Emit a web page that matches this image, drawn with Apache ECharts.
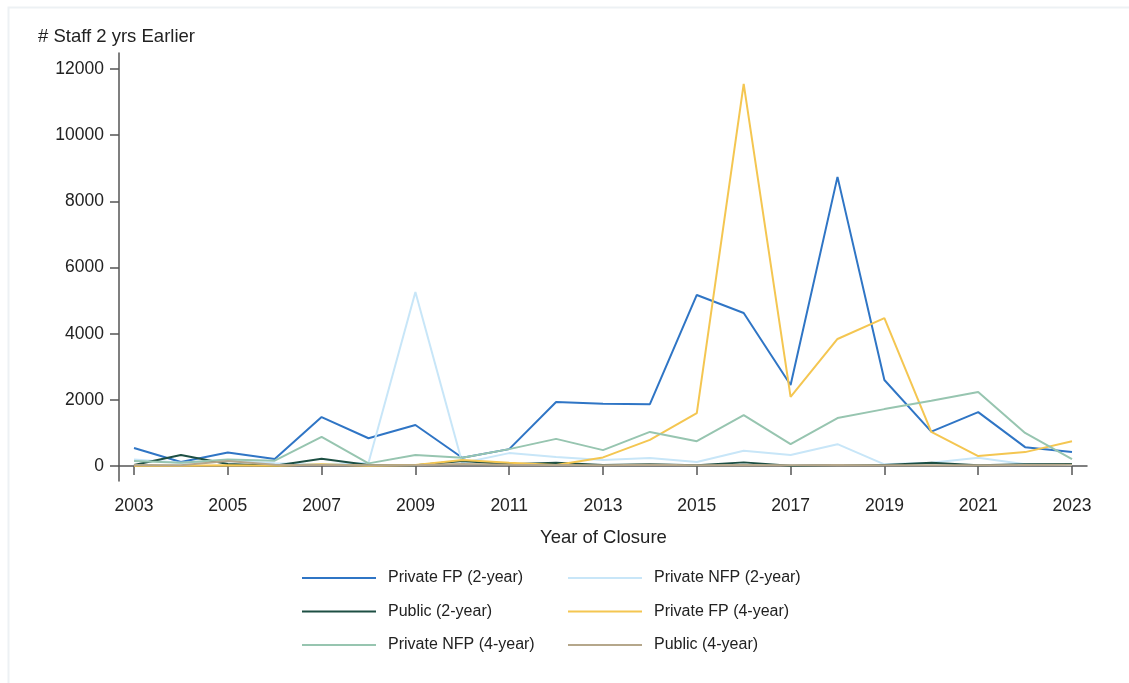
<!DOCTYPE html>
<html>
<head>
<meta charset="utf-8">
<script src="https://cdn.jsdelivr.net/npm/echarts@6/dist/echarts.min.js"></script>
<style>
html,body{margin:0;padding:0;background:#fff;}
#chart{width:1129px;height:683px;}
</style>
</head>
<body>
<div id="chart"></div>
<script>
const years = [2003,2004,2005,2006,2007,2008,2009,2010,2011,2012,2013,2014,2015,2016,2017,2018,2019,2020,2021,2022,2023];
const xTicks = [2003,2005,2007,2009,2011,2013,2015,2017,2019,2021,2023];
const yTicks = [0,2000,4000,6000,8000,10000,12000];

const privateFP2 = [545,120,410,210,1480,840,1240,250,510,1935,1880,1870,5170,4625,2450,8740,2600,1040,1630,570,420];
const privateNFP2 = [200,100,150,80,50,100,5260,90,390,270,180,240,120,460,330,660,50,100,250,50,30];
const public2 = [30,330,60,10,220,30,20,150,50,100,30,50,20,110,10,30,30,100,20,50,60];
const privateFP4 = [10,10,20,10,50,10,30,180,100,30,260,790,1600,11550,2090,3840,4470,1030,300,420,750];
const privateNFP4 = [150,100,200,160,880,80,330,250,510,820,480,1030,750,1540,660,1450,1720,1970,2240,1000,210];
const public4 = [30,20,150,40,30,20,20,60,40,30,20,40,20,30,20,30,20,20,20,30,40];

const seriesNames = ['Private FP (2-year)','Private NFP (2-year)','Public (2-year)','Private FP (4-year)','Private NFP (4-year)','Public (4-year)'];
const seriesValues = [privateFP2, privateNFP2, public2, privateFP4, privateNFP4, public4];
const colors = ['#2f75c5','#c8e6f8','#1d4f43','#f4c651','#97c5b0','#b5a78b'];

const font = '"Liberation Sans", Arial, sans-serif';
const chart = echarts.init(document.getElementById('chart'));

const series = seriesNames.map((name, i) => ({
  name: name,
  type: 'line',
  symbol: 'none',
  data: years.map((y, j) => [y, seriesValues[i][j]]),
  lineStyle: {width: 2, color: colors[i]},
  itemStyle: {color: colors[i]},
  z: 2
}));

const legendCommon = {
  orient: 'vertical',
  padding: 0,
  itemWidth: 74,
  itemHeight: 14,
  itemGap: 17.5,
  icon: 'path://M0,0L74,0L74,2.2L0,2.2Z',
  textStyle: {fontSize: 16, color: '#222', fontFamily: font, padding: [0,0,0,7]}
};

chart.setOption({
  animation: false,
  backgroundColor: '#fff',
  color: colors,
  grid: {left: 119, right: 42, top: 53, bottom: 202, containLabel: false, outerBoundsMode: 'none'},
  xAxis: {
    type: 'value',
    min: 2002.68,
    max: 2023.32,
    axisLine: {show: true, lineStyle: {color: '#555', width: 1.5}},
    axisTick: {show: true, length: 9, lineStyle: {color: '#555', width: 1.5}, customValues: xTicks},
    axisLabel: {fontSize: 17.5, color: '#222', fontFamily: font, margin: 16, customValues: xTicks, formatter: v => String(v)},
    splitLine: {show: false}
  },
  yAxis: {
    type: 'value',
    min: -453,
    max: 12484,
    axisLine: {show: true, lineStyle: {color: '#555', width: 1.5}},
    axisTick: {show: true, length: 9, lineStyle: {color: '#555', width: 1.5}, customValues: yTicks},
    axisLabel: {fontSize: 17.5, color: '#222', fontFamily: font, margin: 15, customValues: yTicks, formatter: v => String(v)},
    splitLine: {show: false}
  },
  legend: [
    Object.assign({}, legendCommon, {left: 302, top: 570, data: [seriesNames[0], seriesNames[2], seriesNames[4]]}),
    Object.assign({}, legendCommon, {left: 568, top: 570, data: [seriesNames[1], seriesNames[3], seriesNames[5]]})
  ],
  graphic: [
    {type: 'rect', left: 6, top: 5, shape: {width: 1200, height: 800}, style: {fill: 'none', stroke: '#edf1f4', lineWidth: 2}, silent: true, z: -10},
    {type: 'text', left: 38, top: 27, style: {text: '# Staff 2 yrs Earlier', fontSize: 18.5, fill: '#222', fontFamily: font}},
    {type: 'text', left: 540, top: 528, style: {text: 'Year of Closure', fontSize: 18.5, fill: '#222', fontFamily: font}}
  ],
  series: series
});
</script>
</body>
</html>
